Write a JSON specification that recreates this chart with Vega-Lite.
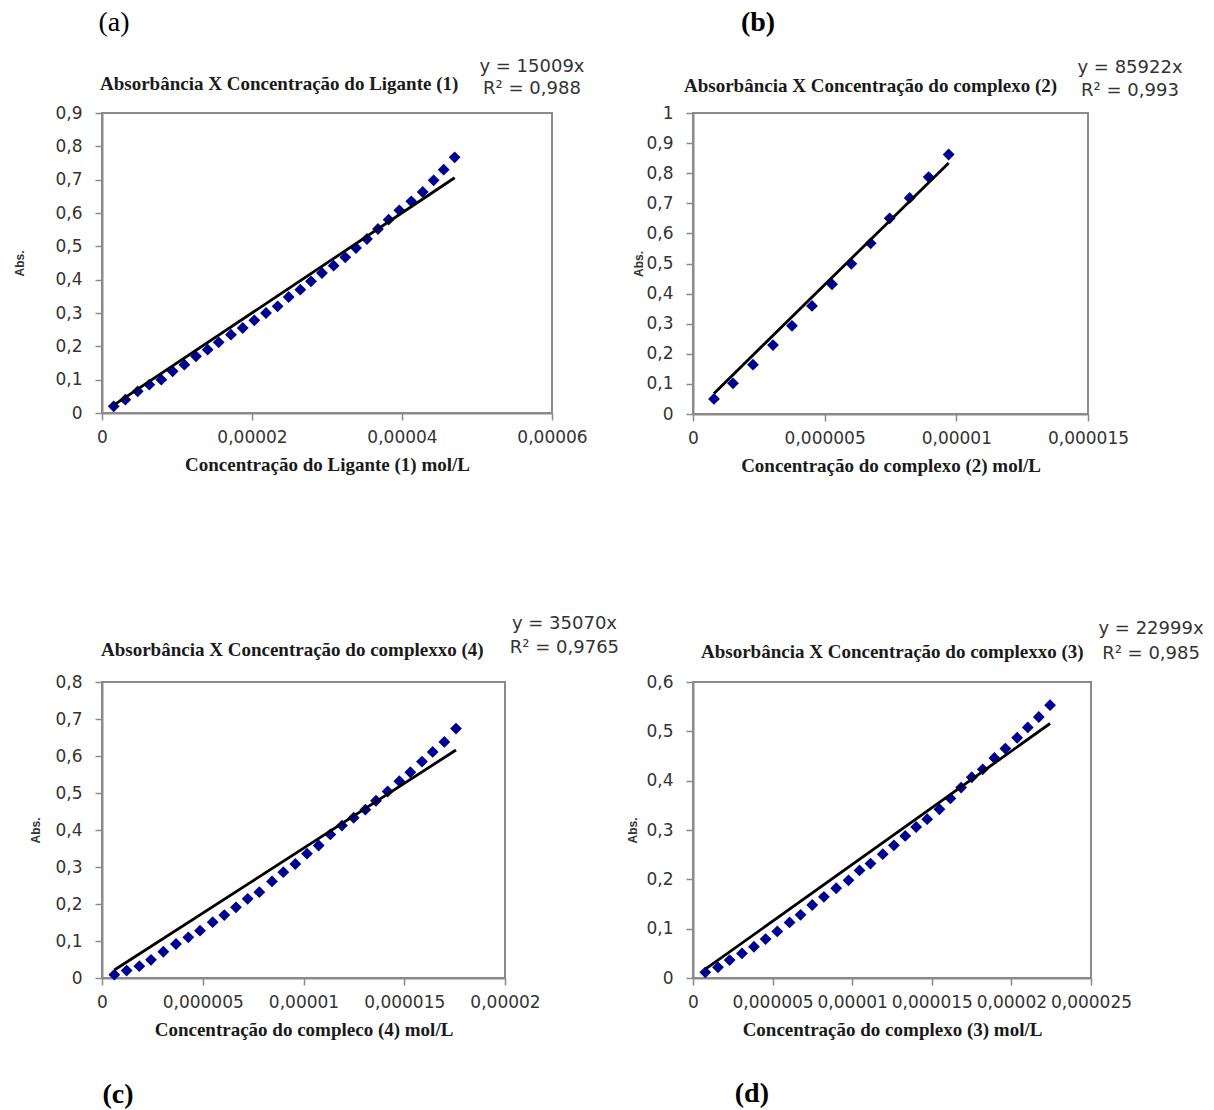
{
  "$schema": "https://vega.github.io/schema/vega-lite/v6.json",
  "background": "white",
  "padding": {"left": 12, "top": 8, "right": 5, "bottom": 5},
  "config": {
    "locale": {"number": {"decimal": ",", "thousands": ".", "grouping": [3], "currency": ["", ""]}},
    "view": {"stroke": "#8a8a8a", "strokeWidth": 2},
    "axis": {
      "grid": false,
      "domainColor": "#8a8a8a",
      "domainWidth": 2,
      "tickColor": "#8a8a8a",
      "tickWidth": 1.5,
      "tickSize": 7,
      "labelFont": "DejaVu Sans",
      "labelFontSize": 17,
      "labelColor": "#333333",
      "labelOverlap": false,
      "labelFlush": false,
      "titleColor": "#1a1a1a"
    },
    "axisX": {"titleFont": "Liberation Serif", "titleFontSize": 19, "titleFontWeight": "bold", "titlePadding": 10, "labelPadding": 9},
    "axisY": {"titleFont": "Liberation Sans", "titleFontSize": 12, "titleFontWeight": "bold", "titleColor": "#333333", "labelPadding": 13},
    "text": {"font": "DejaVu Sans", "fontSize": 18, "color": "#333333"}
  },
  "datasets": {
    "a": [
      {"c": 0.00000156, "abs": 0.020}, {"c": 0.00000311, "abs": 0.040}, {"c": 0.00000476, "abs": 0.065},
      {"c": 0.00000631, "abs": 0.085}, {"c": 0.00000791, "abs": 0.100}, {"c": 0.00000942, "abs": 0.125},
      {"c": 0.00001098, "abs": 0.145}, {"c": 0.00001253, "abs": 0.170}, {"c": 0.00001409, "abs": 0.190},
      {"c": 0.00001556, "abs": 0.212}, {"c": 0.00001720, "abs": 0.235}, {"c": 0.00001876, "abs": 0.255},
      {"c": 0.00002031, "abs": 0.278}, {"c": 0.00002187, "abs": 0.300}, {"c": 0.00002342, "abs": 0.320},
      {"c": 0.00002489, "abs": 0.348}, {"c": 0.00002644, "abs": 0.370}, {"c": 0.00002787, "abs": 0.395},
      {"c": 0.00002933, "abs": 0.420}, {"c": 0.00003089, "abs": 0.442}, {"c": 0.00003244, "abs": 0.467},
      {"c": 0.00003387, "abs": 0.495}, {"c": 0.00003533, "abs": 0.522}, {"c": 0.00003680, "abs": 0.552},
      {"c": 0.00003822, "abs": 0.580}, {"c": 0.00003964, "abs": 0.608}, {"c": 0.00004124, "abs": 0.635},
      {"c": 0.00004276, "abs": 0.663}, {"c": 0.00004422, "abs": 0.698}, {"c": 0.00004556, "abs": 0.730},
      {"c": 0.00004702, "abs": 0.767}
    ],
    "ta": [{"c": 0.00000156, "abs": 0.0234}, {"c": 0.00004702, "abs": 0.7057}],
    "b": [
      {"c": 0.000000797, "abs": 0.050}, {"c": 0.000001519, "abs": 0.102}, {"c": 0.000002278, "abs": 0.164},
      {"c": 0.000003038, "abs": 0.229}, {"c": 0.000003759, "abs": 0.293}, {"c": 0.000004519, "abs": 0.359},
      {"c": 0.000005278, "abs": 0.431}, {"c": 0.000006013, "abs": 0.499}, {"c": 0.000006747, "abs": 0.567},
      {"c": 0.000007468, "abs": 0.650}, {"c": 0.000008228, "abs": 0.718}, {"c": 0.000008949, "abs": 0.787},
      {"c": 0.000009709, "abs": 0.862}
    ],
    "tb": [{"c": 0.000000797, "abs": 0.0685}, {"c": 0.000009709, "abs": 0.8342}],
    "c": [
      {"c": 0.000000612, "abs": 0.009}, {"c": 0.000001224, "abs": 0.020}, {"c": 0.000001853, "abs": 0.032},
      {"c": 0.000002432, "abs": 0.049}, {"c": 0.000003044, "abs": 0.071}, {"c": 0.000003672, "abs": 0.092},
      {"c": 0.000004285, "abs": 0.110}, {"c": 0.000004864, "abs": 0.128}, {"c": 0.000005492, "abs": 0.151},
      {"c": 0.000006071, "abs": 0.170}, {"c": 0.000006650, "abs": 0.191}, {"c": 0.000007229, "abs": 0.214},
      {"c": 0.000007808, "abs": 0.232}, {"c": 0.000008437, "abs": 0.261}, {"c": 0.000008999, "abs": 0.286},
      {"c": 0.000009595, "abs": 0.308}, {"c": 0.000010174, "abs": 0.336}, {"c": 0.000010753, "abs": 0.358},
      {"c": 0.000011332, "abs": 0.388}, {"c": 0.000011911, "abs": 0.412}, {"c": 0.000012490, "abs": 0.433},
      {"c": 0.000013069, "abs": 0.455}, {"c": 0.000013598, "abs": 0.479}, {"c": 0.000014177, "abs": 0.504},
      {"c": 0.000014756, "abs": 0.532}, {"c": 0.000015302, "abs": 0.556}, {"c": 0.000015881, "abs": 0.585},
      {"c": 0.000016411, "abs": 0.611}, {"c": 0.000016990, "abs": 0.638}, {"c": 0.000017568, "abs": 0.674}
    ],
    "tc": [{"c": 0.000000612, "abs": 0.0215}, {"c": 0.000017568, "abs": 0.6161}],
    "d": [
      {"c": 0.000000774, "abs": 0.0115}, {"c": 0.000001569, "abs": 0.0216}, {"c": 0.000002301, "abs": 0.0364},
      {"c": 0.000003075, "abs": 0.0499}, {"c": 0.000003828, "abs": 0.0634}, {"c": 0.000004561, "abs": 0.0789},
      {"c": 0.000005293, "abs": 0.0944}, {"c": 0.000006067, "abs": 0.1126}, {"c": 0.000006757, "abs": 0.128},
      {"c": 0.000007490, "abs": 0.148}, {"c": 0.000008222, "abs": 0.1645}, {"c": 0.000008996, "abs": 0.182},
      {"c": 0.000009770, "abs": 0.198}, {"c": 0.00001046, "abs": 0.218}, {"c": 0.00001115, "abs": 0.232},
      {"c": 0.00001192, "abs": 0.251}, {"c": 0.00001262, "abs": 0.269}, {"c": 0.00001333, "abs": 0.288},
      {"c": 0.00001402, "abs": 0.306}, {"c": 0.00001471, "abs": 0.322}, {"c": 0.00001548, "abs": 0.342},
      {"c": 0.00001617, "abs": 0.364}, {"c": 0.00001684, "abs": 0.386}, {"c": 0.00001751, "abs": 0.407},
      {"c": 0.00001820, "abs": 0.423}, {"c": 0.00001893, "abs": 0.446}, {"c": 0.00001962, "abs": 0.465},
      {"c": 0.00002036, "abs": 0.487}, {"c": 0.00002103, "abs": 0.508}, {"c": 0.00002172, "abs": 0.529},
      {"c": 0.00002243, "abs": 0.553}
    ],
    "td": [{"c": 0.000000774, "abs": 0.0178}, {"c": 0.00002243, "abs": 0.5159}]
  },
  "columns": 2,
  "bounds": "flush",
  "align": "each",
  "spacing": {"column": 141, "row": 268},
  "concat": [
    {
      "width": 450, "height": 300,
      "layer": [
        {"data": {"name": "a"}, "mark": {"type": "point", "shape": "diamond", "filled": true, "size": 140, "color": "#000090", "opacity": 1},
         "encoding": {
           "x": {"field": "c", "type": "quantitative", "scale": {"domain": [0, 0.00006], "nice": false}, "axis": {"values": [0, 0.00002, 0.00004, 0.00006], "tickCount": 4, "format": ".6~g", "labelOverlap": false, "title": "Concentração do Ligante (1) mol/L"}},
           "y": {"field": "abs", "type": "quantitative", "scale": {"domain": [0, 0.9], "nice": false}, "axis": {"values": [0, 0.1, 0.2, 0.3, 0.4, 0.5, 0.6, 0.7, 0.8, 0.9], "tickCount": 10, "format": ".6~g", "labelOverlap": false, "title": "Abs.", "titlePadding": 28}}}},
        {"data": {"name": "ta"}, "mark": {"type": "line", "color": "#000000", "strokeWidth": 2.8},
         "encoding": {
           "x": {"field": "c", "type": "quantitative", "axis": {"values": [0, 0.00002, 0.00004, 0.00006], "tickCount": 4, "format": ".6~g", "labelOverlap": false, "title": "Concentração do Ligante (1) mol/L"}},
           "y": {"field": "abs", "type": "quantitative", "axis": {"values": [0, 0.1, 0.2, 0.3, 0.4, 0.5, 0.6, 0.7, 0.8, 0.9], "tickCount": 10, "format": ".6~g", "labelOverlap": false, "title": "Abs.", "titlePadding": 28}}}},
        {"data": {"values": [{}]}, "mark": {"type": "text", "text": "Absorbância X Concentração do Ligante (1)", "font": "Liberation Serif", "fontSize": 19, "fontWeight": "bold", "color": "#1a1a1a", "align": "left", "baseline": "middle"},
         "encoding": {
           "x": {"datum": -0.000000267, "type": "quantitative", "axis": {"values": [0, 0.00002, 0.00004, 0.00006], "tickCount": 4, "format": ".6~g", "labelOverlap": false, "title": "Concentração do Ligante (1) mol/L"}},
           "y": {"datum": 0.987, "type": "quantitative", "axis": {"values": [0, 0.1, 0.2, 0.3, 0.4, 0.5, 0.6, 0.7, 0.8, 0.9], "tickCount": 10, "format": ".6~g", "labelOverlap": false, "title": "Abs.", "titlePadding": 28}}}},
        {"data": {"values": [{}]}, "mark": {"type": "text", "text": ["y = 15009x", "R² = 0,988"], "align": "center", "baseline": "middle", "lineHeight": 22},
         "encoding": {
           "x": {"datum": 0.00005733, "type": "quantitative", "axis": {"values": [0, 0.00002, 0.00004, 0.00006], "tickCount": 4, "format": ".6~g", "labelOverlap": false, "title": "Concentração do Ligante (1) mol/L"}},
           "y": {"datum": 1.038, "type": "quantitative", "axis": {"values": [0, 0.1, 0.2, 0.3, 0.4, 0.5, 0.6, 0.7, 0.8, 0.9], "tickCount": 10, "format": ".6~g", "labelOverlap": false, "title": "Abs.", "titlePadding": 28}}}},
        {"data": {"values": [{}]}, "mark": {"type": "text", "text": "(a)", "font": "Liberation Serif", "fontSize": 28, "color": "#000000", "align": "center", "baseline": "middle"},
         "encoding": {
           "x": {"datum": 0.0000016, "type": "quantitative", "axis": {"values": [0, 0.00002, 0.00004, 0.00006], "tickCount": 4, "format": ".6~g", "labelOverlap": false, "title": "Concentração do Ligante (1) mol/L"}},
           "y": {"datum": 1.17, "type": "quantitative", "axis": {"values": [0, 0.1, 0.2, 0.3, 0.4, 0.5, 0.6, 0.7, 0.8, 0.9], "tickCount": 10, "format": ".6~g", "labelOverlap": false, "title": "Abs.", "titlePadding": 28}}}}
      ]
    },
    {
      "width": 395, "height": 301,
      "layer": [
        {"data": {"name": "b"}, "mark": {"type": "point", "shape": "diamond", "filled": true, "size": 140, "color": "#000090", "opacity": 1},
         "encoding": {
           "x": {"field": "c", "type": "quantitative", "scale": {"domain": [0, 0.000015], "nice": false}, "axis": {"values": [0, 0.000005, 0.00001, 0.000015], "tickCount": 4, "format": ".6~g", "labelOverlap": false, "title": "Concentração do complexo (2) mol/L"}},
           "y": {"field": "abs", "type": "quantitative", "scale": {"domain": [0, 1], "nice": false}, "axis": {"values": [0, 0.1, 0.2, 0.3, 0.4, 0.5, 0.6, 0.7, 0.8, 0.9, 1], "tickCount": 11, "format": ".6~g", "labelOverlap": false, "title": "Abs.", "titlePadding": 0}}}},
        {"data": {"name": "tb"}, "mark": {"type": "line", "color": "#000000", "strokeWidth": 2.8},
         "encoding": {
           "x": {"field": "c", "type": "quantitative", "axis": {"values": [0, 0.000005, 0.00001, 0.000015], "tickCount": 4, "format": ".6~g", "labelOverlap": false, "title": "Concentração do complexo (2) mol/L"}},
           "y": {"field": "abs", "type": "quantitative", "axis": {"values": [0, 0.1, 0.2, 0.3, 0.4, 0.5, 0.6, 0.7, 0.8, 0.9, 1], "tickCount": 11, "format": ".6~g", "labelOverlap": false, "title": "Abs.", "titlePadding": 0}}}},
        {"data": {"values": [{}]}, "mark": {"type": "text", "text": "Absorbância X Concentração do complexo (2)", "font": "Liberation Serif", "fontSize": 19, "fontWeight": "bold", "color": "#1a1a1a", "align": "left", "baseline": "middle"},
         "encoding": {
           "x": {"datum": -0.000000342, "type": "quantitative", "axis": {"values": [0, 0.000005, 0.00001, 0.000015], "tickCount": 4, "format": ".6~g", "labelOverlap": false, "title": "Concentração do complexo (2) mol/L"}},
           "y": {"datum": 1.0897, "type": "quantitative", "axis": {"values": [0, 0.1, 0.2, 0.3, 0.4, 0.5, 0.6, 0.7, 0.8, 0.9, 1], "tickCount": 11, "format": ".6~g", "labelOverlap": false, "title": "Abs.", "titlePadding": 0}}}},
        {"data": {"values": [{}]}, "mark": {"type": "text", "text": ["y = 85922x", "R² = 0,993"], "align": "center", "baseline": "middle", "lineHeight": 23},
         "encoding": {
           "x": {"datum": 0.000016595, "type": "quantitative", "axis": {"values": [0, 0.000005, 0.00001, 0.000015], "tickCount": 4, "format": ".6~g", "labelOverlap": false, "title": "Concentração do complexo (2) mol/L"}},
           "y": {"datum": 1.148, "type": "quantitative", "axis": {"values": [0, 0.1, 0.2, 0.3, 0.4, 0.5, 0.6, 0.7, 0.8, 0.9, 1], "tickCount": 11, "format": ".6~g", "labelOverlap": false, "title": "Abs.", "titlePadding": 0}}}},
        {"data": {"values": [{}]}, "mark": {"type": "text", "text": "(b)", "font": "Liberation Serif", "fontSize": 28, "fontWeight": "bold", "color": "#000000", "align": "center", "baseline": "middle"},
         "encoding": {
           "x": {"datum": 0.000002468, "type": "quantitative", "axis": {"values": [0, 0.000005, 0.00001, 0.000015], "tickCount": 4, "format": ".6~g", "labelOverlap": false, "title": "Concentração do complexo (2) mol/L"}},
           "y": {"datum": 1.299, "type": "quantitative", "axis": {"values": [0, 0.1, 0.2, 0.3, 0.4, 0.5, 0.6, 0.7, 0.8, 0.9, 1], "tickCount": 11, "format": ".6~g", "labelOverlap": false, "title": "Abs.", "titlePadding": 0}}}}
      ]
    },
    {
      "width": 403, "height": 296,
      "layer": [
        {"data": {"name": "c"}, "mark": {"type": "point", "shape": "diamond", "filled": true, "size": 140, "color": "#000090", "opacity": 1},
         "encoding": {
           "x": {"field": "c", "type": "quantitative", "scale": {"domain": [0, 0.00002], "nice": false}, "axis": {"values": [0, 0.000005, 0.00001, 0.000015, 0.00002], "tickCount": 5, "format": ".6~g", "labelOverlap": false, "title": "Concentração do compleco (4) mol/L"}},
           "y": {"field": "abs", "type": "quantitative", "scale": {"domain": [0, 0.8], "nice": false}, "axis": {"values": [0, 0.1, 0.2, 0.3, 0.4, 0.5, 0.6, 0.7, 0.8], "tickCount": 9, "format": ".6~g", "labelOverlap": false, "title": "Abs.", "titlePadding": 12}}}},
        {"data": {"name": "tc"}, "mark": {"type": "line", "color": "#000000", "strokeWidth": 2.8},
         "encoding": {
           "x": {"field": "c", "type": "quantitative", "axis": {"values": [0, 0.000005, 0.00001, 0.000015, 0.00002], "tickCount": 5, "format": ".6~g", "labelOverlap": false, "title": "Concentração do compleco (4) mol/L"}},
           "y": {"field": "abs", "type": "quantitative", "axis": {"values": [0, 0.1, 0.2, 0.3, 0.4, 0.5, 0.6, 0.7, 0.8], "tickCount": 9, "format": ".6~g", "labelOverlap": false, "title": "Abs.", "titlePadding": 12}}}},
        {"data": {"values": [{}]}, "mark": {"type": "text", "text": "Absorbância X Concentração do complexxo (4)", "font": "Liberation Serif", "fontSize": 19, "fontWeight": "bold", "color": "#1a1a1a", "align": "left", "baseline": "middle"},
         "encoding": {
           "x": {"datum": -0.00000005, "type": "quantitative", "axis": {"values": [0, 0.000005, 0.00001, 0.000015, 0.00002], "tickCount": 5, "format": ".6~g", "labelOverlap": false, "title": "Concentração do compleco (4) mol/L"}},
           "y": {"datum": 0.8865, "type": "quantitative", "axis": {"values": [0, 0.1, 0.2, 0.3, 0.4, 0.5, 0.6, 0.7, 0.8], "tickCount": 9, "format": ".6~g", "labelOverlap": false, "title": "Abs.", "titlePadding": 12}}}},
        {"data": {"values": [{}]}, "mark": {"type": "text", "text": ["y = 35070x", "R² = 0,9765"], "align": "center", "baseline": "middle", "lineHeight": 24},
         "encoding": {
           "x": {"datum": 0.00002295, "type": "quantitative", "axis": {"values": [0, 0.000005, 0.00001, 0.000015, 0.00002], "tickCount": 5, "format": ".6~g", "labelOverlap": false, "title": "Concentração do compleco (4) mol/L"}},
           "y": {"datum": 0.957, "type": "quantitative", "axis": {"values": [0, 0.1, 0.2, 0.3, 0.4, 0.5, 0.6, 0.7, 0.8], "tickCount": 9, "format": ".6~g", "labelOverlap": false, "title": "Abs.", "titlePadding": 12}}}},
        {"data": {"values": [{}]}, "mark": {"type": "text", "text": "(c)", "font": "Liberation Serif", "fontSize": 28, "fontWeight": "bold", "color": "#000000", "align": "center", "baseline": "middle"},
         "encoding": {
           "x": {"datum": 0.00000079, "type": "quantitative", "axis": {"values": [0, 0.000005, 0.00001, 0.000015, 0.00002], "tickCount": 5, "format": ".6~g", "labelOverlap": false, "title": "Concentração do compleco (4) mol/L"}},
           "y": {"datum": -0.316, "type": "quantitative", "axis": {"values": [0, 0.1, 0.2, 0.3, 0.4, 0.5, 0.6, 0.7, 0.8], "tickCount": 9, "format": ".6~g", "labelOverlap": false, "title": "Abs.", "titlePadding": 12}}}}
      ]
    },
    {
      "width": 398, "height": 296,
      "layer": [
        {"data": {"name": "d"}, "mark": {"type": "point", "shape": "diamond", "filled": true, "size": 140, "color": "#000090", "opacity": 1},
         "encoding": {
           "x": {"field": "c", "type": "quantitative", "scale": {"domain": [0, 0.000025], "nice": false}, "axis": {"values": [0, 0.000005, 0.00001, 0.000015, 0.00002, 0.000025], "tickCount": 6, "format": ".6~g", "labelOverlap": false, "title": "Concentração do complexo (3) mol/L"}},
           "y": {"field": "abs", "type": "quantitative", "scale": {"domain": [0, 0.6], "nice": false}, "axis": {"values": [0, 0.1, 0.2, 0.3, 0.4, 0.5, 0.6], "tickCount": 7, "format": ".6~g", "labelOverlap": false, "title": "Abs.", "titlePadding": 6}}}},
        {"data": {"name": "td"}, "mark": {"type": "line", "color": "#000000", "strokeWidth": 2.8},
         "encoding": {
           "x": {"field": "c", "type": "quantitative", "axis": {"values": [0, 0.000005, 0.00001, 0.000015, 0.00002, 0.000025], "tickCount": 6, "format": ".6~g", "labelOverlap": false, "title": "Concentração do complexo (3) mol/L"}},
           "y": {"field": "abs", "type": "quantitative", "axis": {"values": [0, 0.1, 0.2, 0.3, 0.4, 0.5, 0.6], "tickCount": 7, "format": ".6~g", "labelOverlap": false, "title": "Abs.", "titlePadding": 6}}}},
        {"data": {"values": [{}]}, "mark": {"type": "text", "text": "Absorbância X Concentração do complexxo (3)", "font": "Liberation Serif", "fontSize": 19, "fontWeight": "bold", "color": "#1a1a1a", "align": "left", "baseline": "middle"},
         "encoding": {
           "x": {"datum": 0.000000503, "type": "quantitative", "axis": {"values": [0, 0.000005, 0.00001, 0.000015, 0.00002, 0.000025], "tickCount": 6, "format": ".6~g", "labelOverlap": false, "title": "Concentração do complexo (3) mol/L"}},
           "y": {"datum": 0.6608, "type": "quantitative", "axis": {"values": [0, 0.1, 0.2, 0.3, 0.4, 0.5, 0.6], "tickCount": 7, "format": ".6~g", "labelOverlap": false, "title": "Abs.", "titlePadding": 6}}}},
        {"data": {"values": [{}]}, "mark": {"type": "text", "text": ["y = 22999x", "R² = 0,985"], "align": "center", "baseline": "middle", "lineHeight": 25},
         "encoding": {
           "x": {"datum": 0.00002877, "type": "quantitative", "axis": {"values": [0, 0.000005, 0.00001, 0.000015, 0.00002, 0.000025], "tickCount": 6, "format": ".6~g", "labelOverlap": false, "title": "Concentração do complexo (3) mol/L"}},
           "y": {"datum": 0.7074, "type": "quantitative", "axis": {"values": [0, 0.1, 0.2, 0.3, 0.4, 0.5, 0.6], "tickCount": 7, "format": ".6~g", "labelOverlap": false, "title": "Abs.", "titlePadding": 6}}}},
        {"data": {"values": [{}]}, "mark": {"type": "text", "text": "(d)", "font": "Liberation Serif", "fontSize": 28, "fontWeight": "bold", "color": "#000000", "align": "center", "baseline": "middle"},
         "encoding": {
           "x": {"datum": 0.0000037, "type": "quantitative", "axis": {"values": [0, 0.000005, 0.00001, 0.000015, 0.00002, 0.000025], "tickCount": 6, "format": ".6~g", "labelOverlap": false, "title": "Concentração do complexo (3) mol/L"}},
           "y": {"datum": -0.235, "type": "quantitative", "axis": {"values": [0, 0.1, 0.2, 0.3, 0.4, 0.5, 0.6], "tickCount": 7, "format": ".6~g", "labelOverlap": false, "title": "Abs.", "titlePadding": 6}}}}
      ]
    }
  ]
}
